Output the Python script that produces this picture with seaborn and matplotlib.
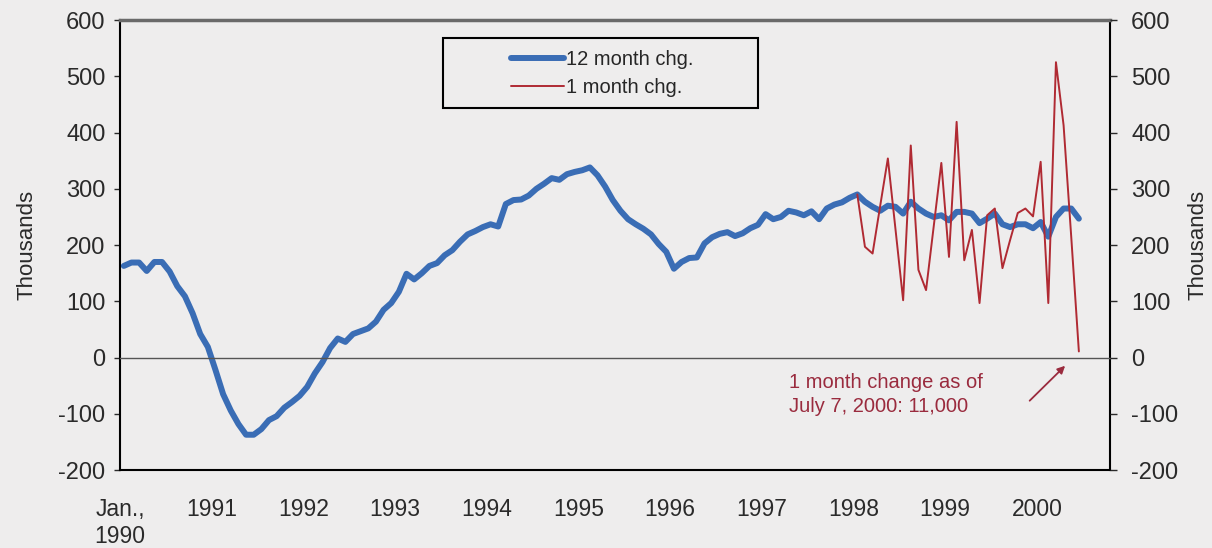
import numpy as np
import pandas as pd
import seaborn as sns
import matplotlib.pyplot as plt
from matplotlib.patches import Rectangle

sns.set_style("white")
plt.rcParams["font.family"] = ["Liberation Sans", "DejaVu Sans"]
plt.rcParams["axes.unicode_minus"] = False

# 12 month change (thousands), monthly Jan 1990 - Jun 2000
chg12 = [
    163, 169, 169, 154, 170, 170, 153, 127, 109, 79, 42, 19,            # 1990
    -22, -65, -94, -118, -137, -137, -127, -111, -104, -89, -79, -68,   # 1991
    -52, -28, -8, 17, 34, 28, 42, 47, 52, 64, 85, 97,                   # 1992
    117, 149, 139, 150, 163, 168, 182, 191, 206, 219, 225, 232,         # 1993
    237, 233, 273, 280, 281, 288, 300, 309, 319, 316, 326, 330,         # 1994
    333, 338, 324, 304, 280, 261, 246, 237, 229, 219, 202, 188,         # 1995
    158, 170, 177, 178, 203, 214, 220, 223, 216, 221, 230, 236,         # 1996
    255, 246, 250, 261, 258, 253, 260, 246, 265, 272, 276, 284,         # 1997
    290, 277, 268, 261, 270, 268, 256, 277, 265, 256, 250, 253,         # 1998
    244, 259, 259, 256, 239, 247, 256, 237, 232, 237, 237, 230,         # 1999
    241, 215, 250, 265, 265, 247,                                       # 2000
]

# 1 month change (thousands), monthly Jan 1998 - Jun 2000
chg1 = [
    290, 197, 185, 270, 354, 228, 102, 377, 156, 120, 233, 346,         # 1998
    179, 419, 173, 227, 97, 253, 265, 159, 209, 257, 265, 251,          # 1999
    348, 97, 525, 413, 215, 11,                                         # 2000
]

years = list(range(1990, 2001))
year_labels = ["Jan.,\n1990"] + [str(y) for y in years[1:]]

# month positions as decimal years (mid-month)
t12 = [1990 + (i + 0.5) / 12 for i in range(len(chg12))]
t1 = [1998 + (i + 0.5) / 12 for i in range(len(chg1))]

bg = "#eeeded"
blue = "#3a6db5"
red = "#b02a33"
note_col = "#9a2b3e"
txt = "#2a2a2a"

fig = plt.figure(figsize=(12.12, 5.48), dpi=100, facecolor=bg)
ax = fig.add_axes([0.099, 0.142, 0.817, 0.8215])
ax.set_facecolor(bg)

sns.lineplot(x=t12, y=chg12, ax=ax, color=blue, lw=4.3, label="12 month chg.")
sns.lineplot(x=t1, y=chg1, ax=ax, color=red, lw=1.4, label="1 month chg.")

ax.set_xlim(1990, 2000.8)
ax.set_ylim(-200, 600)
ax.set_yticks(range(-200, 601, 100))
ax.set_xticks(years)
ax.set_xlabel("")

# category axis drawn at zero, frame at the bottom
ax.spines["bottom"].set_position(("data", 0))
ax.spines["bottom"].set_color("#555555")
ax.spines["bottom"].set_linewidth(1)
ax.tick_params(axis="x", labelbottom=False, direction="inout", length=9, width=1, color="#444444")
ax.spines["top"].set_color("#6a6a6a")
ax.spines["top"].set_linewidth(2.5)
for s in ["left", "right"]:
    ax.spines[s].set_color("black")
    ax.spines[s].set_linewidth(1.5)
ax.tick_params(axis="y", direction="out", length=4.5, width=1, pad=6, labelsize=17, colors=txt)

sec = ax.secondary_xaxis(0)
sec.set_xticks(years, labels=year_labels)
sec.tick_params(length=0, pad=20, labelsize=16.5, colors=txt)
sec.spines["bottom"].set_color("black")
sec.spines["bottom"].set_linewidth(1.5)

ax2 = ax.twinx()
ax2.set_ylim(-200, 600)
ax2.set_yticks(range(-200, 601, 100))
for s in ax2.spines.values():
    s.set_visible(False)
ax2.tick_params(axis="y", direction="out", length=5, width=1, pad=10, labelsize=17, colors=txt)

ax.set_ylabel("Thousands", fontsize=16, color=txt)
ax.yaxis.set_label_coords(-0.083, 0.5)
ax2.set_ylabel("Thousands", fontsize=16, color=txt)
ax2.yaxis.set_label_coords(1.078, 0.5)

# legend with a wide box round it
ax.legend(loc="center", bbox_to_anchor=(0.487, 0.882), frameon=False, fontsize=14.5,
          handlelength=2.6, handletextpad=0.1, labelspacing=0.45)
ax.add_patch(Rectangle((0.326, 0.804), 0.318, 0.156, transform=ax.transAxes,
                       fill=False, ec="black", lw=1.5, zorder=5))

ax.text(1997.3, -28, "1 month change as of\nJuly 7, 2000: 11,000", color=note_col,
        fontsize=14.5, va="top", ha="left", linespacing=1.3)
ax.annotate("", xy=(2000.33, -11), xytext=(1999.9, -80),
            arrowprops=dict(arrowstyle="-|>", color=note_col, lw=1.3, mutation_scale=11))

fig.savefig("out.png", dpi=100, facecolor=bg)
